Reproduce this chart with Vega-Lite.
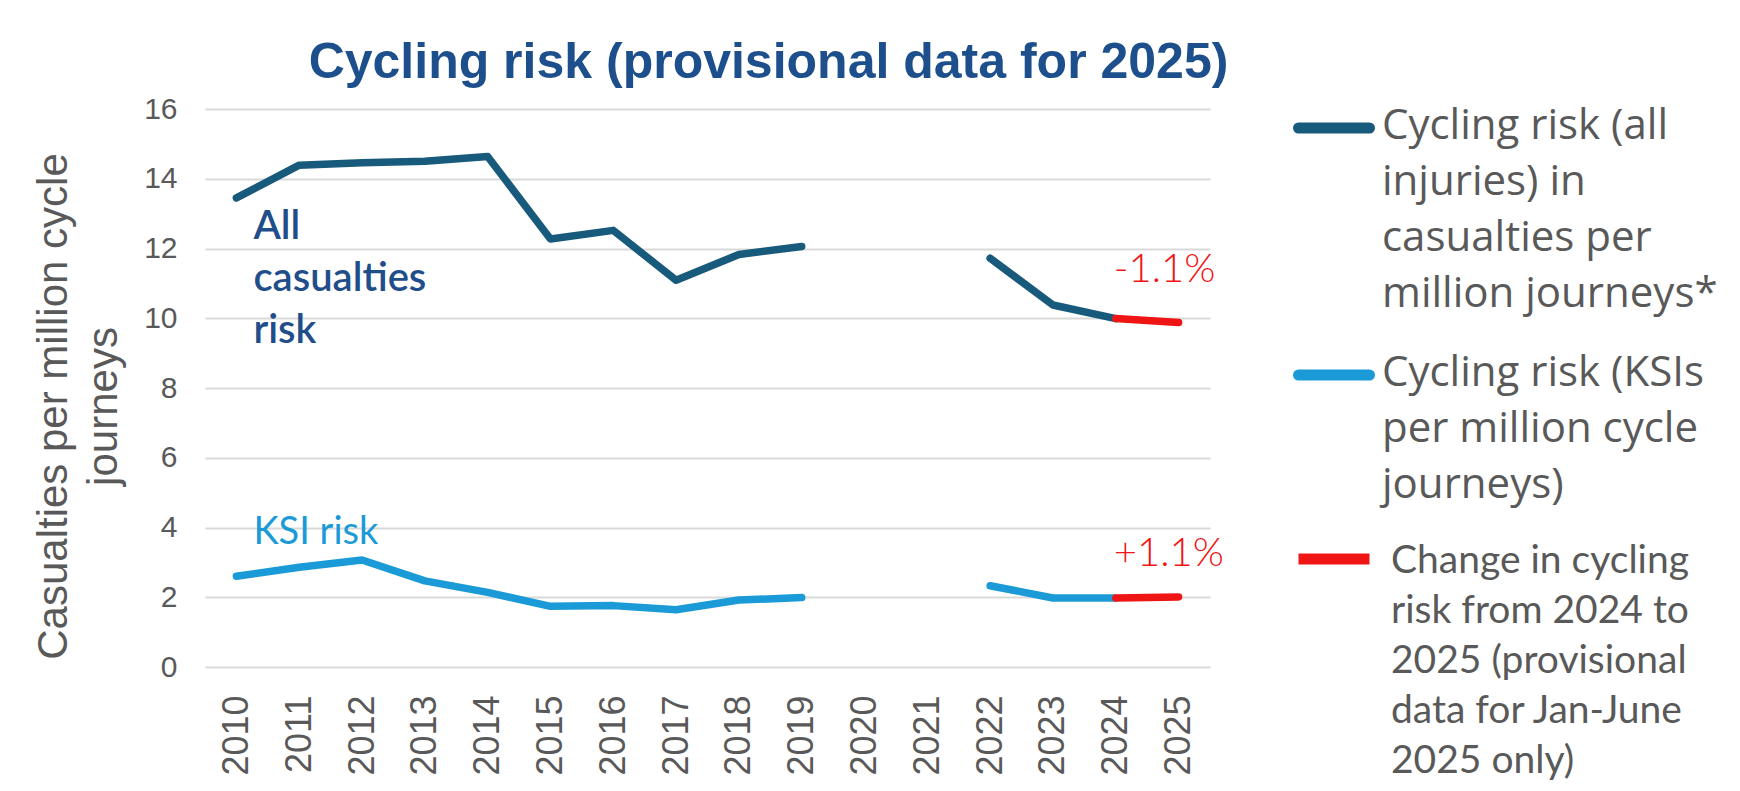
{
  "$schema": "https://vega.github.io/schema/vega-lite/v6.json",
  "width": 1005,
  "height": 558,
  "autosize": {"type": "none"},
  "padding": {"left": 205, "top": 109, "right": 530, "bottom": 124},
  "background": "white",
  "title": {
    "text": "Cycling risk (provisional data for 2025)",
    "font": "Liberation Sans",
    "fontSize": 50,
    "fontWeight": "bold",
    "color": "#1d4f8c",
    "anchor": "middle",
    "frame": "group",
    "dx": 61,
    "dy": 66,
    "baseline": "alphabetic",
    "offset": 20
  },
  "config": {
    "view": {"stroke": null},
    "font": "Liberation Sans"
  },
  "layer": [
    {
      "data": {
        "values": [
          {"year": "2010", "value": 13.45, "series": "Cycling risk (all|injuries) in|casualties per|million journeys*", "seg": "a1"},
          {"year": "2011", "value": 14.39, "series": "Cycling risk (all|injuries) in|casualties per|million journeys*", "seg": "a1"},
          {"year": "2012", "value": 14.46, "series": "Cycling risk (all|injuries) in|casualties per|million journeys*", "seg": "a1"},
          {"year": "2013", "value": 14.5, "series": "Cycling risk (all|injuries) in|casualties per|million journeys*", "seg": "a1"},
          {"year": "2014", "value": 14.64, "series": "Cycling risk (all|injuries) in|casualties per|million journeys*", "seg": "a1"},
          {"year": "2015", "value": 12.27, "series": "Cycling risk (all|injuries) in|casualties per|million journeys*", "seg": "a1"},
          {"year": "2016", "value": 12.52, "series": "Cycling risk (all|injuries) in|casualties per|million journeys*", "seg": "a1"},
          {"year": "2017", "value": 11.09, "series": "Cycling risk (all|injuries) in|casualties per|million journeys*", "seg": "a1"},
          {"year": "2018", "value": 11.83, "series": "Cycling risk (all|injuries) in|casualties per|million journeys*", "seg": "a1"},
          {"year": "2019", "value": 12.06, "series": "Cycling risk (all|injuries) in|casualties per|million journeys*", "seg": "a1"},
          {"year": "2022", "value": 11.72, "series": "Cycling risk (all|injuries) in|casualties per|million journeys*", "seg": "a2"},
          {"year": "2023", "value": 10.38, "series": "Cycling risk (all|injuries) in|casualties per|million journeys*", "seg": "a2"},
          {"year": "2024", "value": 9.99, "series": "Cycling risk (all|injuries) in|casualties per|million journeys*", "seg": "a2"},
          {"year": "2010", "value": 2.6, "series": "Cycling risk (KSIs|per million cycle|journeys)", "seg": "k1"},
          {"year": "2011", "value": 2.86, "series": "Cycling risk (KSIs|per million cycle|journeys)", "seg": "k1"},
          {"year": "2012", "value": 3.07, "series": "Cycling risk (KSIs|per million cycle|journeys)", "seg": "k1"},
          {"year": "2013", "value": 2.47, "series": "Cycling risk (KSIs|per million cycle|journeys)", "seg": "k1"},
          {"year": "2014", "value": 2.14, "series": "Cycling risk (KSIs|per million cycle|journeys)", "seg": "k1"},
          {"year": "2015", "value": 1.74, "series": "Cycling risk (KSIs|per million cycle|journeys)", "seg": "k1"},
          {"year": "2016", "value": 1.76, "series": "Cycling risk (KSIs|per million cycle|journeys)", "seg": "k1"},
          {"year": "2017", "value": 1.64, "series": "Cycling risk (KSIs|per million cycle|journeys)", "seg": "k1"},
          {"year": "2018", "value": 1.92, "series": "Cycling risk (KSIs|per million cycle|journeys)", "seg": "k1"},
          {"year": "2019", "value": 1.99, "series": "Cycling risk (KSIs|per million cycle|journeys)", "seg": "k1"},
          {"year": "2022", "value": 2.33, "series": "Cycling risk (KSIs|per million cycle|journeys)", "seg": "k2"},
          {"year": "2023", "value": 1.98, "series": "Cycling risk (KSIs|per million cycle|journeys)", "seg": "k2"},
          {"year": "2024", "value": 1.98, "series": "Cycling risk (KSIs|per million cycle|journeys)", "seg": "k2"}
        ]
      },
      "mark": {"type": "line", "strokeWidth": 7.5, "strokeCap": "round", "strokeJoin": "round"},
      "encoding": {
        "x": {
          "field": "year",
          "type": "ordinal",
          "scale": {"domain": ["2010","2011","2012","2013","2014","2015","2016","2017","2018","2019","2020","2021","2022","2023","2024","2025"]},
          "axis": {
            "title": null,
            "labelAngle": 270,
            "labelFont": "Liberation Sans",
            "labelFontSize": 36,
            "labelColor": "#595959",
            "labelPadding": 28,
            "ticks": false,
            "domain": false,
            "grid": false
          }
        },
        "y": {
          "field": "value",
          "type": "quantitative",
          "scale": {"domain": [0, 16], "nice": false},
          "axis": {
            "values": [0, 2, 4, 6, 8, 10, 12, 14, 16],
            "title": ["Casualties per million cycle", "journeys"],
            "titleFont": "Liberation Sans",
            "titleFontSize": 42,
            "titleFontWeight": "normal",
            "titleColor": "#595959",
            "titleLineHeight": 50,
            "titleAngle": -90,
            "titleAlign": "center",
            "titleBaseline": "top",
            "titleX": -172,
            "titleY": 297,
            "labelFont": "Liberation Sans",
            "labelFontSize": 30,
            "labelColor": "#595959",
            "labelPadding": 28,
            "ticks": false,
            "domain": false,
            "grid": true,
            "gridColor": "#d9d9d9",
            "gridWidth": 2
          }
        },
        "color": {
          "field": "series",
          "type": "nominal",
          "scale": {
            "domain": [
              "Cycling risk (all|injuries) in|casualties per|million journeys*",
              "Cycling risk (KSIs|per million cycle|journeys)",
              "Change in cycling|risk from 2024 to|2025 (provisional|data for Jan-June|2025 only)"
            ],
            "range": ["#185a7b", "#1a9ad6", "#f01515"]
          },
          "legend": {
            "orient": "none",
            "legendX": 1088,
            "legendY": -27,
            "title": null,
            "padding": 0,
            "symbolType": "stroke",
            "symbolSize": 5041,
            "symbolStrokeWidth": 11,
            "labelFont": "Open Sans",
            "labelFontSize": 42,
            "labelColor": "#595959",
            "labelLimit": 600,
            "labelOffset": 7,
            "labelBaseline": "top",
            "rowPadding": 14,
            "labelExpr": "split(datum.label, '|')",
            "encode": {
              "labels": {"update": {
                "lineHeight": {"signal": "datum.index === 2 ? 50 : 56"},
                "font": {"signal": "datum.index === 2 ? 'Lato' : 'Open Sans'"},
                "fontSize": {"signal": "datum.index === 2 ? 39 : 42"},
                "dy": {"signal": "datum.index === 2 ? -19 : -17"},
                "dx": {"signal": "datum.index === 2 ? 9 : 0"}
              }},
              "symbols": {"update": {
                "strokeCap": {"signal": "datum.index === 2 ? 'butt' : 'round'"},
                "y": {"signal": "datum.index === 2 ? 39 : 46"}
              }}
            }
          }
        },
        "detail": {"field": "seg"}
      }
    },
    {
      "data": {
        "values": [
          {"year": "2024", "value": 9.99, "series": "Change in cycling|risk from 2024 to|2025 (provisional|data for Jan-June|2025 only)", "seg": "c1"},
          {"year": "2025", "value": 9.88, "series": "Change in cycling|risk from 2024 to|2025 (provisional|data for Jan-June|2025 only)", "seg": "c1"},
          {"year": "2024", "value": 1.98, "series": "Change in cycling|risk from 2024 to|2025 (provisional|data for Jan-June|2025 only)", "seg": "c2"},
          {"year": "2025", "value": 2.01, "series": "Change in cycling|risk from 2024 to|2025 (provisional|data for Jan-June|2025 only)", "seg": "c2"}
        ]
      },
      "mark": {"type": "line", "strokeWidth": 7.5, "strokeCap": "round"},
      "encoding": {
        "x": {"field": "year", "type": "ordinal"},
        "y": {"field": "value", "type": "quantitative"},
        "color": {"field": "series", "type": "nominal"},
        "detail": {"field": "seg"}
      }
    },
    {
      "data": {"values": [{"year": "2010", "value": 13.2, "label": ["All", "casualties", "risk"]}]},
      "mark": {"type": "text", "align": "left", "baseline": "top", "dx": 17, "font": "Lato", "fontSize": 40, "fontWeight": 600, "lineHeight": 52, "color": "#1f4e8b"},
      "encoding": {
        "x": {"field": "year", "type": "ordinal"},
        "y": {"field": "value", "type": "quantitative"},
        "text": {"field": "label"}
      }
    },
    {
      "data": {"values": [{"year": "2010", "value": 4.38, "label": "KSI risk"}]},
      "mark": {"type": "text", "align": "left", "baseline": "top", "dx": 17, "font": "Lato", "fontSize": 38, "color": "#1a9ad6"},
      "encoding": {
        "x": {"field": "year", "type": "ordinal"},
        "y": {"field": "value", "type": "quantitative"},
        "text": {"field": "label"}
      }
    },
    {
      "data": {"values": [{"year": "2024", "value": 11.95, "label": "-1.1%"}, {"year": "2024", "value": 3.8, "label": "+1.1%"}]},
      "mark": {"type": "text", "align": "left", "baseline": "top", "dx": -2, "font": "Lato", "fontSize": 40, "fontWeight": 300, "color": "#f01515"},
      "encoding": {
        "x": {"field": "year", "type": "ordinal"},
        "y": {"field": "value", "type": "quantitative"},
        "text": {"field": "label"}
      }
    }
  ]
}
